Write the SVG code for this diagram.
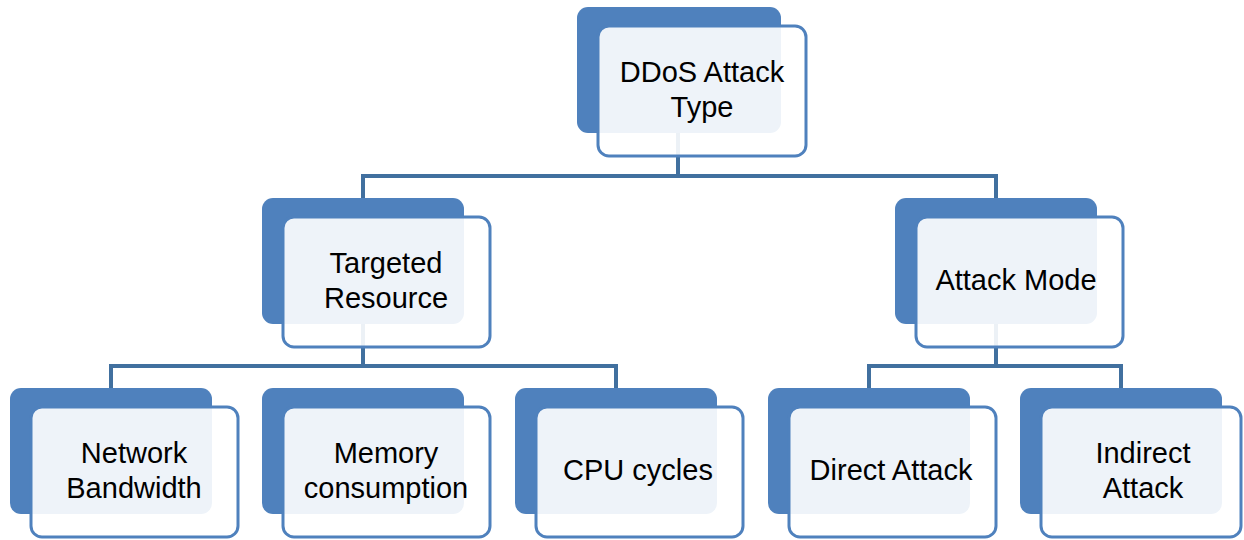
<svg xmlns="http://www.w3.org/2000/svg" width="1244" height="540" viewBox="0 0 1244 540">
<style>
.back{fill:#4F81BD}
.front{fill:#FFFFFF;fill-opacity:0.9;stroke:#4F81BD;stroke-width:3}
.lbl{font-family:"Liberation Sans",Arial,sans-serif;font-size:29px;fill:#000;text-anchor:middle}
.conn{fill:none;stroke:#41709F;stroke-width:4}
</style>
<rect width="1244" height="540" fill="#FFFFFF"/>
<g id="connectors">
<path class="conn" d="M678 133V176M363 198V176H996V198"/>
<path class="conn" d="M363 324V366M111 388V366H616V388"/>
<path class="conn" d="M996 324V366M869 388V366H1121V388"/>
</g>
<g id="n-root">
<rect class="back" x="577" y="7" width="204" height="126" rx="11"/>
<rect class="front" x="598" y="26" width="208" height="130" rx="11"/>
<text class="lbl" x="702" y="82">DDoS Attack</text>
<text class="lbl" x="702" y="117">Type</text>
</g>
<g id="n-targeted">
<rect class="back" x="262" y="198" width="202" height="126" rx="11"/>
<rect class="front" x="283" y="217" width="207" height="130" rx="11"/>
<text class="lbl" x="386" y="273">Targeted</text>
<text class="lbl" x="386" y="308">Resource</text>
</g>
<g id="n-mode">
<rect class="back" x="895" y="198" width="202" height="126" rx="11"/>
<rect class="front" x="916" y="217" width="207" height="130" rx="11"/>
<text class="lbl" x="1016" y="290">Attack Mode</text>
</g>
<g id="n-network">
<rect class="back" x="10" y="388" width="202" height="126" rx="11"/>
<rect class="front" x="31" y="407" width="207" height="130" rx="11"/>
<text class="lbl" x="134" y="463">Network</text>
<text class="lbl" x="134" y="498">Bandwidth</text>
</g>
<g id="n-memory">
<rect class="back" x="262" y="388" width="202" height="126" rx="11"/>
<rect class="front" x="283" y="407" width="207" height="130" rx="11"/>
<text class="lbl" x="386" y="463">Memory</text>
<text class="lbl" x="386" y="498">consumption</text>
</g>
<g id="n-cpu">
<rect class="back" x="515" y="388" width="202" height="126" rx="11"/>
<rect class="front" x="536" y="407" width="207" height="130" rx="11"/>
<text class="lbl" x="638" y="480">CPU cycles</text>
</g>
<g id="n-direct">
<rect class="back" x="768" y="388" width="202" height="126" rx="11"/>
<rect class="front" x="789" y="407" width="207" height="130" rx="11"/>
<text class="lbl" x="891" y="480">Direct Attack</text>
</g>
<g id="n-indirect">
<rect class="back" x="1020" y="388" width="202" height="126" rx="11"/>
<rect class="front" x="1041" y="407" width="200" height="130" rx="11"/>
<text class="lbl" x="1143" y="463">Indirect</text>
<text class="lbl" x="1143" y="498">Attack</text>
</g>
</svg>
